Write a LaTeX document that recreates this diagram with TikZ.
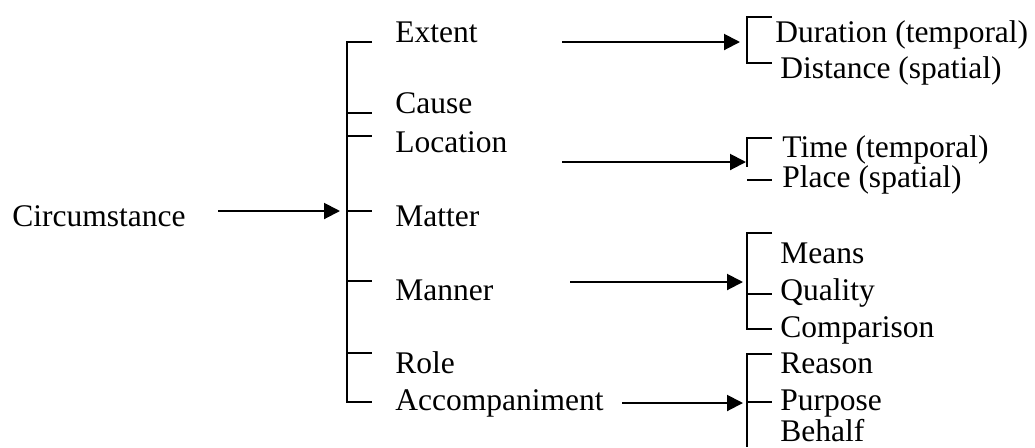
\documentclass[tikz,border=0pt]{standalone}
\usepackage{fontspec}
\setmainfont{Liberation Serif}
\usetikzlibrary{arrows.meta}
\begin{document}
\begin{tikzpicture}[x=0.5pt,y=-0.5pt,
  lbl/.style={anchor=base west,inner sep=0pt,font=\fontsize{15.75pt}{18pt}\selectfont},
  br/.style={line width=1pt},
  arr/.style={line width=1pt,-{Triangle[length=8pt,width=8pt]}}]
\useasboundingbox (0,0) rectangle (1035,447);
% labels
\node[lbl] (circ) at (12,226) {Circumstance};
\node[lbl] (ext) at (395,42) {Extent};
\node[lbl] (cau) at (395,113) {Cause};
\node[lbl] (loc) at (395,152) {Location};
\node[lbl] (mat) at (395,226) {Matter};
\node[lbl] (man) at (395,300) {Manner};
\node[lbl] (rol) at (395,373) {Role};
\node[lbl] (acc) at (395,410) {Accompaniment};
\node[lbl] (dur) at (775,42) {Duration (temporal)};
\node[lbl] (dis) at (780,78) {Distance (spatial)};
\node[lbl] (tim) at (782,157) {Time (temporal)};
\node[lbl] (pla) at (782,187) {Place (spatial)};
\node[lbl] (mea) at (780,263) {Means};
\node[lbl] (qua) at (780,300) {Quality};
\node[lbl] (com) at (780,337) {Comparison};
\node[lbl] (rea) at (780,373) {Reason};
\node[lbl] (pur) at (780,410) {Purpose};
\node[lbl] (beh) at (780,441) {Behalf};
% main bracket
\coordinate (mT) at (347,42);
\coordinate (mB) at (347,402);
\draw[br] (372,42) -- (mT) -- (mB) -- (372,402);
\foreach \y in {113,136,211,281,353} \draw[br] (347,\y) -- (372,\y);
\coordinate (m0) at (218,211);
\coordinate (m1) at (340,211);
\draw[arr] (m0) -- (m1);
% Extent bracket
\draw[br] (772,17) -- (747,17) -- (747,63) -- (772,63);
\coordinate (e0) at (562,42); \coordinate (e1) at (740,42);
\draw[arr] (e0) -- (e1);
% Location bracket
\draw[br] (772,138) -- (747,138) -- (747,167);
\draw[br] (747,180) -- (772,180);
\coordinate (l0) at (562,162); \coordinate (l1) at (746,162);
\draw[arr] (l0) -- (l1);
% Manner bracket
\draw[br] (772,233) -- (747,233) -- (747,329) -- (772,329);
\draw[br] (747,294) -- (772,294);
\coordinate (n0) at (570,282); \coordinate (n1) at (743,282);
\draw[arr] (n0) -- (n1);
% Accompaniment bracket
\draw[br] (772,354) -- (747,354) -- (747,447);
\draw[br] (747,402) -- (772,402);
\coordinate (a0) at (622,403); \coordinate (a1) at (743,403);
\draw[arr] (a0) -- (a1);
\end{tikzpicture}
\end{document}
